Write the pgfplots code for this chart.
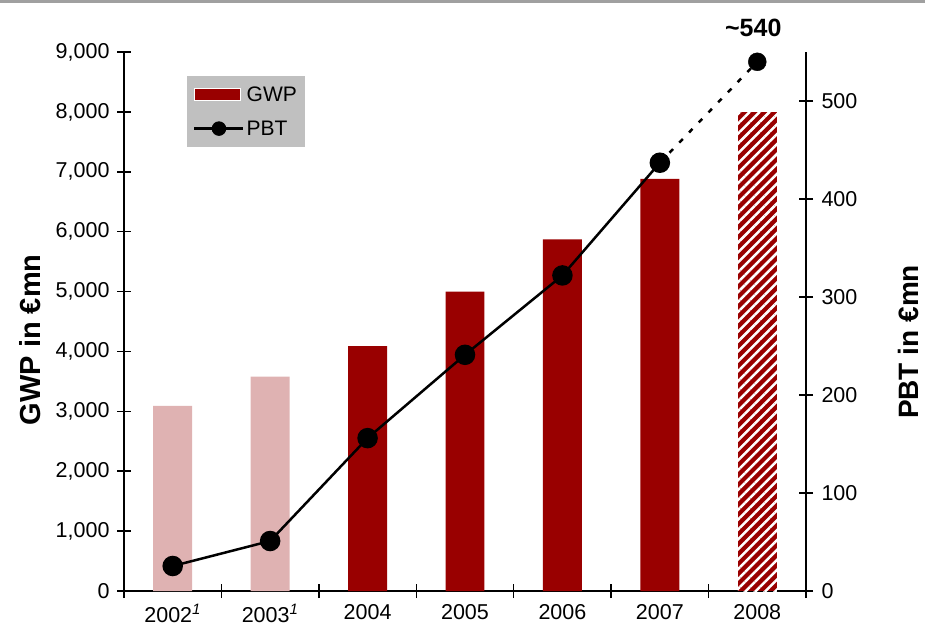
\documentclass[border=0pt]{standalone}
\usepackage{fontspec}
\setmainfont{Liberation Sans}
\usepackage{pgfplots}
\pgfplotsset{compat=1.18}
\usetikzlibrary{patterns.meta}
\definecolor{darkred}{RGB}{153,0,0}
\definecolor{lightred}{RGB}{223,178,178}
\definecolor{leggray}{RGB}{192,192,192}
\definecolor{topgray}{RGB}{160,160,160}
\begin{document}
\begin{tikzpicture}
\path[use as bounding box] (0,0) rectangle (925pt,634pt);
\draw[topgray, line width=3pt] (0,632.5pt) -- (925pt,632.5pt);
\pgfplotsset{
 common/.style={
  scale only axis, width=682pt, height=539pt,
  at={(124pt,43pt)}, anchor=south west,
  xmin=-0.5, xmax=6.5,
  ymin=0,
  tick align=center,
  major tick length=14pt,
  minor tick length=14pt,
  every tick/.style={black, line width=1.5pt},
  /pgf/number format/assume math mode=true,
  tick label style={font=\fontsize{21.5}{25}\selectfont},
 }
}
\begin{axis}[common,
 ymax=9000,
 axis x line=bottom, axis y line=left,
 axis line style={-, black, line width=2pt},
 xtick={0,1,2,3,4,5,6},
 xticklabels={2002\textsuperscript{\itshape 1},2003\textsuperscript{\itshape 1},2004,2005,2006,2007,2008},
 major x tick style={draw=none},
 minor xtick={-0.5,0.5,1.5,2.5,3.5,4.5,5.5,6.5},
 minor x tick style={black, line width=1.5pt},
 xticklabel style={yshift=-3pt},
 ytick={0,1000,...,9000},
 scaled y ticks=false,
 yticklabel style={xshift=-4pt, /pgf/number format/.cd, fixed, 1000 sep={,}},
 ylabel={GWP in €mn},
 ylabel style={at={(axis description cs:-0.138,0.466)}, anchor=center, font=\bfseries\fontsize{29}{34}\selectfont},
]
\addplot[ybar, bar width=0.4, bar shift=0pt, fill=lightred, draw=none] coordinates {(0,3090) (1,3580)};
\addplot[ybar, bar width=0.4, bar shift=0pt, fill=darkred, draw=none] coordinates {(2,4090) (3,5000) (4,5870) (5,6880)};
\addplot[ybar, bar width=0.4, bar shift=0pt, fill=darkred, draw=none,
  postaction={pattern={Lines[angle=45,distance=7pt,line width=2.5pt]}, pattern color=white}] coordinates {(6,8000)};
\end{axis}
\begin{axis}[common,
 clip=false,
 ymax=550,
 axis x line=none, axis y line=right,
 axis line style={-, black, line width=2pt},
 ytick={0,100,...,500},
 yticklabel style={xshift=5pt},
 ylabel={PBT in €mn},
 ylabel style={at={(axis description cs:1.150,0.462)}, anchor=center, font=\bfseries\fontsize{28}{33}\selectfont},
 legend cell align=left,
 legend style={at={(0.0924,0.955)}, anchor=north west, fill=leggray, draw=none,
   font=\fontsize{21}{25}\selectfont, inner xsep=6pt, inner ysep=8pt, row sep=14pt},
]
\addlegendimage{legend image code/.code={\draw[fill=darkred, draw=white, line width=1.5pt] (0pt,-6pt) rectangle (46pt,6pt);}}
\addlegendentry{GWP}
\addplot[black, line width=2.5pt, mark=*, mark size=9pt,
  legend image code/.code={\draw[black, line width=2.5pt] (0pt,0pt) -- (49pt,0pt); \fill[black] (24.5pt,0pt) circle (6pt);}]
  coordinates {(0,25.5) (1,51) (2,156) (3,241) (4,322) (5,437)};
\addlegendentry{PBT}
\addplot[black, line width=2.5pt, dash pattern=on 5pt off 9pt, forget plot] coordinates {(5,437) (6,540)};
\addplot[black, only marks, mark=*, mark size=9pt, forget plot] coordinates {(6,540)};
\node[font=\bfseries\fontsize{25}{30}\selectfont, anchor=center, yshift=34pt, xshift=-4pt] at (axis cs:6,540) {\textasciitilde540};
\end{axis}
\end{tikzpicture}
\end{document}
